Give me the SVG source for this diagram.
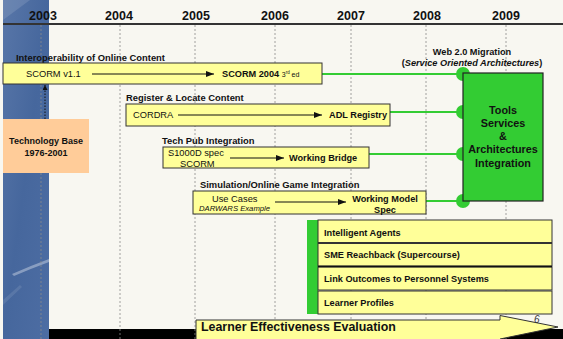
<svg xmlns="http://www.w3.org/2000/svg" width="563" height="339" viewBox="0 0 563 339">
<defs>
<linearGradient id="blue" x1="0" y1="0" x2="1" y2="1">
<stop offset="0" stop-color="#5876a8"/>
<stop offset="0.5" stop-color="#46679d"/>
<stop offset="1" stop-color="#4d6da3"/>
</linearGradient>
<marker id="ah" viewBox="0 0 8 6" refX="8" refY="3" markerWidth="8" markerHeight="6" markerUnits="userSpaceOnUse" orient="auto">
<path d="M0,0 L8,3 L0,6 z" fill="#111"/>
</marker>
<marker id="ahs" viewBox="0 0 6 6" refX="6" refY="3" markerWidth="5" markerHeight="5" markerUnits="userSpaceOnUse" orient="auto">
<path d="M0,0 L6,3 L0,6 z" fill="#111"/>
</marker>
</defs>
<style>
text{font-family:"Liberation Sans",Arial,sans-serif;fill:#111}
.yr{font-size:12.5px;font-weight:bold}
.lbl{font-size:9.4px;font-weight:bold}
.reg{font-size:9.3px}
.b{font-size:9.2px;font-weight:bold}
.ybox{fill:#ffff99;stroke:#333;stroke-width:1}
.grid{stroke:#8a8a8a;stroke-width:0.8;stroke-dasharray:2 2;fill:none}
.gline{stroke:#33cc33;stroke-width:2;fill:none}
.dot{fill:#33cc33}
.arr{stroke:#111;stroke-width:1;fill:none;marker-end:url(#ah)}
.gbt{font-size:10.8px;font-weight:bold;text-anchor:middle}
</style>
<rect x="0" y="0" width="563" height="339" fill="#f8f7f1"/>
<g id="blueband">
<rect x="3" y="0" width="46" height="339" fill="url(#blue)"/>
<path d="M3,0 L30,0 L3,20 z" fill="#ffffff" opacity="0.12"/>
<path d="M12,274 Q30,266 49,259 L49,262 Q30,269 14,276 z" fill="#ffffff" opacity="0.35"/>
<path d="M3,300 L20,285 L22,287 L3,305 z" fill="#ffffff" opacity="0.1"/>
</g>
<rect x="49" y="329" width="514" height="10" fill="#000"/>
<g id="grid">
<line class="grid" x1="41" y1="25" x2="41" y2="339"/>
<line class="grid" x1="120" y1="25" x2="120" y2="339"/>
<line class="grid" x1="195" y1="25" x2="195" y2="339"/>
<line class="grid" x1="275" y1="25" x2="275" y2="339"/>
<line class="grid" x1="351" y1="25" x2="351" y2="339"/>
<line class="grid" x1="426" y1="25" x2="426" y2="339"/>
<line class="grid" x1="506" y1="25" x2="506" y2="339"/>
</g>
<line x1="3" y1="24" x2="563" y2="24" stroke="#333" stroke-width="2"/>
<g id="years">
<text class="yr" x="43" y="20" text-anchor="middle">2003</text>
<text class="yr" x="119" y="20" text-anchor="middle">2004</text>
<text class="yr" x="196" y="20" text-anchor="middle">2005</text>
<text class="yr" x="275" y="20" text-anchor="middle">2006</text>
<text class="yr" x="351" y="20" text-anchor="middle">2007</text>
<text class="yr" x="427" y="20" text-anchor="middle">2008</text>
<text class="yr" x="506" y="20" text-anchor="middle">2009</text>
</g>
<g id="connectors">
<line class="gline" x1="322" y1="74" x2="463" y2="74"/>
<line class="gline" x1="390" y1="112" x2="463" y2="112"/>
<line class="gline" x1="369" y1="154" x2="463" y2="154"/>
<line class="gline" x1="426" y1="201" x2="463" y2="201"/>
<circle class="dot" cx="463" cy="74" r="7"/>
<circle class="dot" cx="463" cy="112" r="7"/>
<circle class="dot" cx="463" cy="154" r="7"/>
<circle class="dot" cx="463" cy="201" r="7"/>
<line x1="45" y1="119" x2="45" y2="85" stroke="#111" stroke-width="1" stroke-dasharray="1.5 1.5" marker-end="url(#ahs)"/>
</g>
<g id="interop">
<text class="lbl" x="16" y="61">Interoperability of Online Content</text>
<rect class="ybox" x="3" y="63" width="319" height="21"/>
<text class="reg" x="26" y="77">SCORM v1.1</text>
<line class="arr" x1="92" y1="74" x2="214" y2="74"/>
<text x="222" y="77"><tspan style="font-size:9.2px;font-weight:bold">SCORM 2004 </tspan><tspan style="font-size:7px">3</tspan><tspan style="font-size:4.5px" dy="-3">rd</tspan><tspan style="font-size:7px" dy="3"> ed</tspan></text>
</g>
<g id="register">
<text class="lbl" x="126" y="101">Register &amp; Locate Content</text>
<rect class="ybox" x="126" y="104" width="264" height="22"/>
<text class="reg" x="133" y="118">CORDRA</text>
<line class="arr" x1="178" y1="115" x2="322" y2="115"/>
<text class="b" x="329" y="118">ADL Registry</text>
</g>
<g id="techbase">
<rect x="3" y="119" width="86" height="54" fill="#ffcc99"/>
<text class="b" x="46" y="144" text-anchor="middle" style="font-size:9px">Technology Base</text>
<text class="b" x="46" y="156" text-anchor="middle" style="font-size:9px">1976-2001</text>
</g>
<g id="techpub">
<text class="lbl" x="162" y="144">Tech Pub Integration</text>
<rect class="ybox" x="163" y="147" width="206" height="21"/>
<text class="reg" x="168" y="156">S1000D spec</text>
<text class="reg" x="180" y="167">SCORM</text>
<line class="arr" x1="230" y1="158" x2="284" y2="158"/>
<text class="b" x="289" y="161">Working Bridge</text>
</g>
<g id="simulation">
<text class="lbl" x="200" y="188">Simulation/Online Game Integration</text>
<rect class="ybox" x="193" y="191" width="233" height="23"/>
<text class="reg" x="212" y="202">Use Cases</text>
<text x="199" y="211" style="font-size:7.7px;font-style:italic">DARWARS Example</text>
<line class="arr" x1="275" y1="202" x2="346" y2="202"/>
<text class="b" x="385" y="202" text-anchor="middle">Working Model</text>
<text class="b" x="385" y="213" text-anchor="middle">Spec</text>
</g>
<g id="web20">
<text class="b" x="472" y="55" text-anchor="middle">Web 2.0 Migration</text>
<text class="b" x="472" y="66" text-anchor="middle">(<tspan style="font-style:italic">Service Oriented Architectures</tspan>)</text>
</g>
<g id="tools">
<rect x="463" y="73" width="80" height="128" fill="#33cc33" stroke="#222" stroke-width="1.2"/>
<text class="gbt" x="503" y="114">Tools</text>
<text class="gbt" x="503" y="127">Services</text>
<text class="gbt" x="503" y="140">&amp;</text>
<text class="gbt" x="503" y="153">Architectures</text>
<text class="gbt" x="503" y="167">Integration</text>
</g>
<g id="learnerstack">
<rect x="307" y="220" width="11" height="94" fill="#33cc33"/>
<rect class="ybox" x="318" y="220" width="234" height="22.5"/>
<rect class="ybox" x="318" y="243.5" width="234" height="22.5"/>
<rect class="ybox" x="318" y="267" width="234" height="23"/>
<rect class="ybox" x="318" y="291" width="234" height="23"/>
<line x1="318" y1="266.5" x2="552" y2="266.5" stroke="#111" stroke-width="1.5"/>
<text class="b" x="324" y="236">Intelligent Agents</text>
<text class="b" x="324" y="258">SME Reachback (Supercourse)</text>
<text class="b" x="324" y="282">Link Outcomes to Personnel Systems</text>
<text class="b" x="324" y="306">Learner Profiles</text>
</g>
<g id="evaluation">
<path d="M196,339 L196,320 L500,320 L500,315.5 L558,327 L500,339" fill="#ffff99" stroke="#333" stroke-width="1"/>
<text x="201" y="331" style="font-size:12.4px;font-weight:bold">Learner Effectiveness Evaluation</text>
</g>
<text x="534" y="323" style="font-size:10px;font-style:italic;fill:#333">6</text>
</svg>
